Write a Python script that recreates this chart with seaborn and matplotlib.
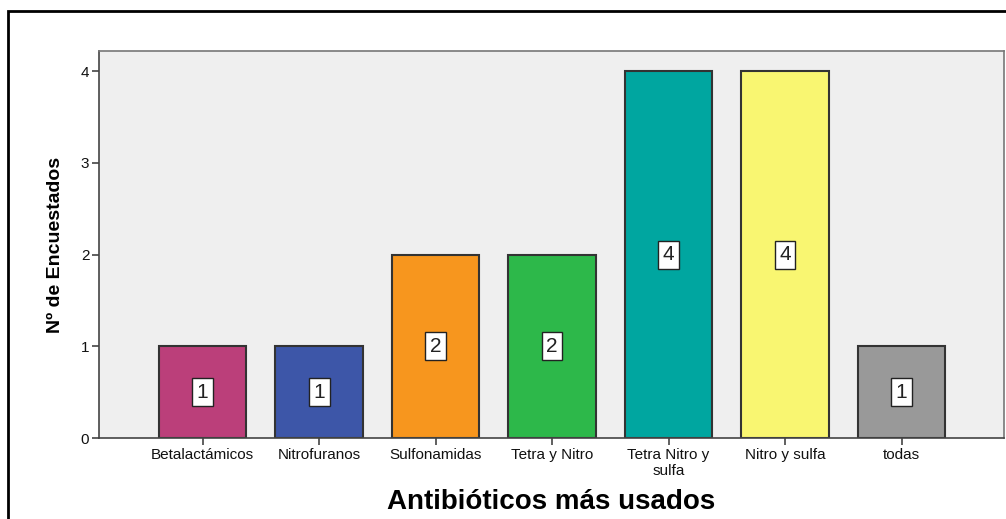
import matplotlib
matplotlib.use("Agg")
import matplotlib.pyplot as plt
import seaborn as sns
import pandas as pd
from matplotlib.patches import Rectangle

# datos
categorias = ["Betalactámicos", "Nitrofuranos", "Sulfonamidas", "Tetra y Nitro",
              "Tetra Nitro y\nsulfa", "Nitro y sulfa", "todas"]
encuestados = [1, 1, 2, 2, 4, 4, 1]
colores = ["#BB3F7A", "#3D56A8", "#F7961E", "#2DB84A", "#00A6A0", "#F9F671", "#999999"]
yticks = [0, 1, 2, 3, 4]

df = pd.DataFrame({"cat": categorias, "n": encuestados})

sns.set_style("white")
plt.rcParams["font.family"] = ["Liberation Sans", "DejaVu Sans"]

fig = plt.figure(figsize=(10.06, 5.19), dpi=100)
ax = fig.add_axes([99/1006, 1 - 438/519, 905/1006, 387/519])

sns.barplot(data=df, x="cat", y="n", hue="cat", palette=colores, legend=False,
            saturation=1, width=0.75, edgecolor="#333333", linewidth=1.5, ax=ax)

ax.set_facecolor("#EFEFEF")
ax.set_xlim(-0.89, 6.88)
ax.set_ylim(0, 4.22)
ax.set_yticks(yticks)
ax.tick_params(axis="both", bottom=True, left=True, direction="out", length=5,
               width=1.2, color="#444444", labelsize=11, labelcolor="#111111", pad=2)
for s in ax.spines.values():
    s.set_color("#777777")
    s.set_linewidth(1.2)
ax.spines["left"].set_color("#444444")
ax.spines["bottom"].set_color("#444444")

# etiquetas de valor en cajas blancas
for i, v in enumerate(encuestados):
    ax.text(i, v / 2, str(v), ha="center", va="center", fontsize=15, color="#222222",
            bbox=dict(boxstyle="square,pad=0.22", fc="white", ec="#222222", lw=1))

ax.set_xlabel("Antibióticos más usados", fontsize=20, fontweight="bold", labelpad=8,
              color="black")
ax.set_ylabel("Nº de Encuestados", fontsize=14, fontweight="bold", labelpad=12,
              color="black")

# marco exterior
fig.patches.append(Rectangle((8/1006, -0.1), 1.0, 1 - 11/519 + 0.1,
                             transform=fig.transFigure, fill=False,
                             ec="black", lw=2))

fig.savefig("out.png", dpi=100)
